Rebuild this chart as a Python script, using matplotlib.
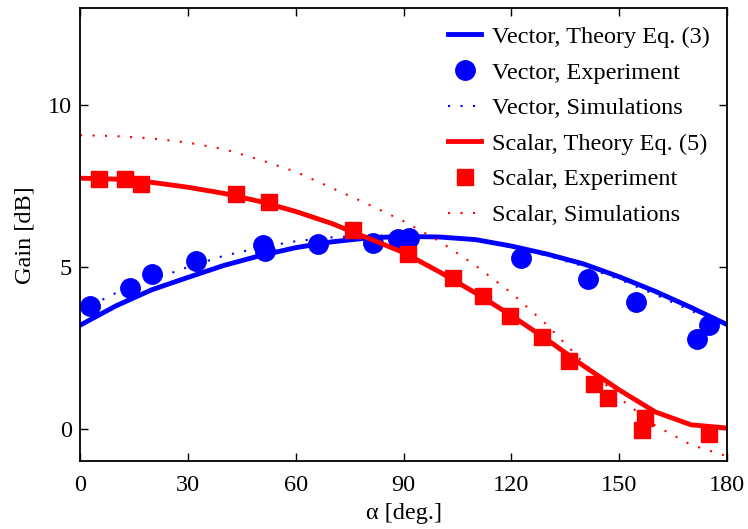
import matplotlib.pyplot as plt
import numpy as np

plt.rcParams['font.family'] = ['Liberation Serif', 'DejaVu Serif']

# angle grid for the curves (deg)
alpha = [0, 10, 20, 30, 40, 50, 60, 70, 80, 90, 100, 110, 120, 130, 140, 150, 160, 170, 180]

vec_theory = [3.2, 3.8, 4.3, 4.68, 5.05, 5.35, 5.6, 5.78, 5.9, 5.95, 5.93, 5.85, 5.65, 5.4, 5.1, 4.7, 4.25, 3.75, 3.22]
vec_sim = [3.65, 4.2, 4.6, 5.0, 5.35, 5.6, 5.8, 5.92, 5.97, 5.98, 5.93, 5.82, 5.62, 5.35, 5.03, 4.62, 4.15, 3.65, 3.12]
sca_theory = [7.75, 7.72, 7.62, 7.47, 7.28, 7.03, 6.72, 6.35, 5.9, 5.45, 4.85, 4.2, 3.5, 2.75, 1.95, 1.2, 0.52, 0.12, 0.02]
sca_sim = [9.08, 9.05, 8.98, 8.85, 8.65, 8.32, 7.95, 7.45, 6.95, 6.42, 5.8, 5.05, 4.2, 3.2, 2.05, 0.95, 0.1, -0.5, -0.85]

# measured points
vec_exp_a = [2.8, 13.9, 20, 32.3, 51, 51.5, 66.2, 81.5, 88.5, 91.5, 122.7, 141.3, 154.7, 171.7, 175]
vec_exp_g = [3.8, 4.35, 4.78, 5.19, 5.68, 5.5, 5.71, 5.75, 5.86, 5.9, 5.28, 4.63, 3.92, 2.78, 3.21]

sca_exp_a = [5.3, 12.5, 17, 43.4, 52.6, 76, 91.3, 103.8, 112.1, 119.6, 128.5, 136, 143, 146.9, 157.2, 156.4, 175]
sca_exp_g = [7.72, 7.72, 7.56, 7.25, 7.0, 6.14, 5.4, 4.67, 4.1, 3.49, 2.84, 2.1, 1.39, 0.96, 0.34, -0.03, -0.15]

fs = 17.5

fig = plt.figure(figsize=(7.48, 5.29), dpi=100)
ax = fig.add_axes([0.107, 0.1285, 0.865, 0.8555])

dots = (0, (1, 5))
ax.plot(alpha, vec_theory, color='blue', lw=3.5, label='Vector, Theory Eq. (3)')
ax.plot(vec_exp_a, vec_exp_g, 'o', color='blue', ms=14, label='Vector, Experiment')
ax.plot(alpha, vec_sim, color='blue', lw=1.5, ls=dots, label='Vector, Simulations')
ax.plot(alpha, sca_theory, color='red', lw=3.5, label='Scalar, Theory Eq. (5)')
ax.plot(sca_exp_a, sca_exp_g, 's', color='red', ms=12, label='Scalar, Experiment')
ax.plot(alpha, sca_sim, color='red', lw=1.5, ls=dots, label='Scalar, Simulations')

ax.set_xlim(0, 180)
ax.set_ylim(-1, 13)
ax.set_xticks(np.arange(0, 181, 30))
ax.set_yticks([0, 5, 10])
ax.tick_params(direction='in', top=True, right=True, labelsize=fs, length=6, width=1)
ax.tick_params(axis='x', pad=10)
ax.tick_params(axis='y', pad=6)
for s in ax.spines.values():
    s.set_linewidth(1.3)

ax.set_xlabel('α [deg.]', fontsize=fs, labelpad=5)
ax.set_ylabel('Gain [dB]', fontsize=fs, labelpad=9)

ax.legend(loc='upper right', frameon=False, fontsize=fs, handlelength=1.36,
          handletextpad=0.42, labelspacing=0.56, borderaxespad=0.32,
          bbox_to_anchor=(1.0, 1.0))

fig.savefig('out.png', dpi=100)
